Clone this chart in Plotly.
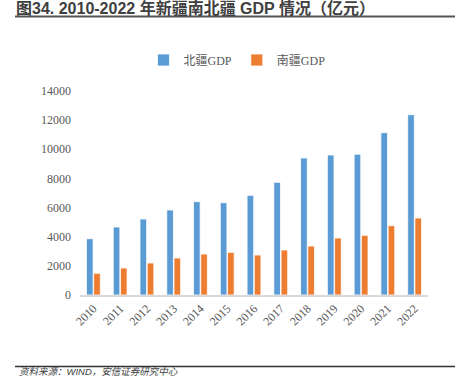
import plotly.graph_objects as go

years = ["2010", "2011", "2012", "2013", "2014", "2015", "2016",
         "2017", "2018", "2019", "2020", "2021", "2022"]
north_gdp = [3864, 4667, 5216, 5834, 6404, 6335, 6843, 7735, 9403, 9609, 9657, 11140, 12375]
south_gdp = [1490, 1853, 2196, 2540, 2814, 2929, 2745, 3089, 3363, 3912, 4097, 4757, 5285]
y_ticks = [0, 2000, 4000, 6000, 8000, 10000, 12000, 14000]
y_tick_labels = ["0", "2000", "4000", "6000", "8000", "10000", "12000", "14000"]

W, H = 461, 377
L, R, T, B = 80, 33, 91, 82
pw, ph = W - L - R, H - T - B

def px(x):
    return (x - L) / pw

def py(y):
    return (H - B - y) / ph

serif = "Liberation Serif, Noto Sans CJK SC"
fig = go.Figure()
fig.add_trace(go.Bar(x=years, y=north_gdp, name="北疆GDP",
                     marker=dict(color="#5B9BD5", line=dict(color="white", width=0.8))))
fig.add_trace(go.Bar(x=years, y=south_gdp, name="南疆GDP",
                     marker=dict(color="#ED7D31", line=dict(color="white", width=0.8))))

fig.update_layout(
    width=W, height=H,
    margin=dict(l=L, r=R, t=T, b=B, autoexpand=False),
    paper_bgcolor="white", plot_bgcolor="white",
    barmode="group", bargap=0.46, bargroupgap=0.08,
    showlegend=True,
    legend=dict(orientation="h", x=px(237), y=py(60), xanchor="center", yanchor="middle",
                font=dict(family=serif, size=12, color="#595959"),
                itemwidth=30, tracegroupgap=0, bgcolor="rgba(0,0,0,0)"),
    xaxis=dict(type="category", tickangle=-45, showgrid=False, showline=True,
               linecolor="#D9D9D9", linewidth=1.5, ticks="", automargin=False,
               tickfont=dict(family=serif, size=12, color="#595959")),
    yaxis=dict(range=[0, 14000], tickvals=y_ticks, ticktext=y_tick_labels,
               showgrid=False, showline=False, automargin=False,
               zeroline=False, ticks="", ticklabelstandoff=8,
               tickfont=dict(family=serif, size=12, color="#595959")),
    shapes=[
        dict(type="line", xref="paper", yref="paper", x0=px(15), x1=px(455),
             y0=py(16.5), y1=py(16.5), line=dict(color="#555555", width=2)),
        dict(type="line", xref="paper", yref="paper", x0=px(15), x1=px(455),
             y0=py(366.5), y1=py(366.5), line=dict(color="#333333", width=1.5)),
    ],
    annotations=[
        dict(text="<b>图34. 2010-2022 年新疆南北疆 GDP 情况（亿元）</b>", xref="paper", yref="paper",
             x=px(14), y=py(8.2), xanchor="left", yanchor="middle", showarrow=False,
             font=dict(family="Liberation Sans, Noto Sans CJK SC", size=16, color="#404040")),
        dict(text="<i>资料来源：WIND，安信证券研究中心</i>", xref="paper", yref="paper",
             x=px(17), y=py(371.8), xanchor="left", yanchor="middle", showarrow=False,
             font=dict(family="Liberation Sans, Noto Sans CJK SC", size=9.5, color="#404040")),
    ],
)

fig.write_html("out.html", config={"displayModeBar": False},
               post_script="document.body.style.margin='0';document.body.style.overflow='hidden';")
